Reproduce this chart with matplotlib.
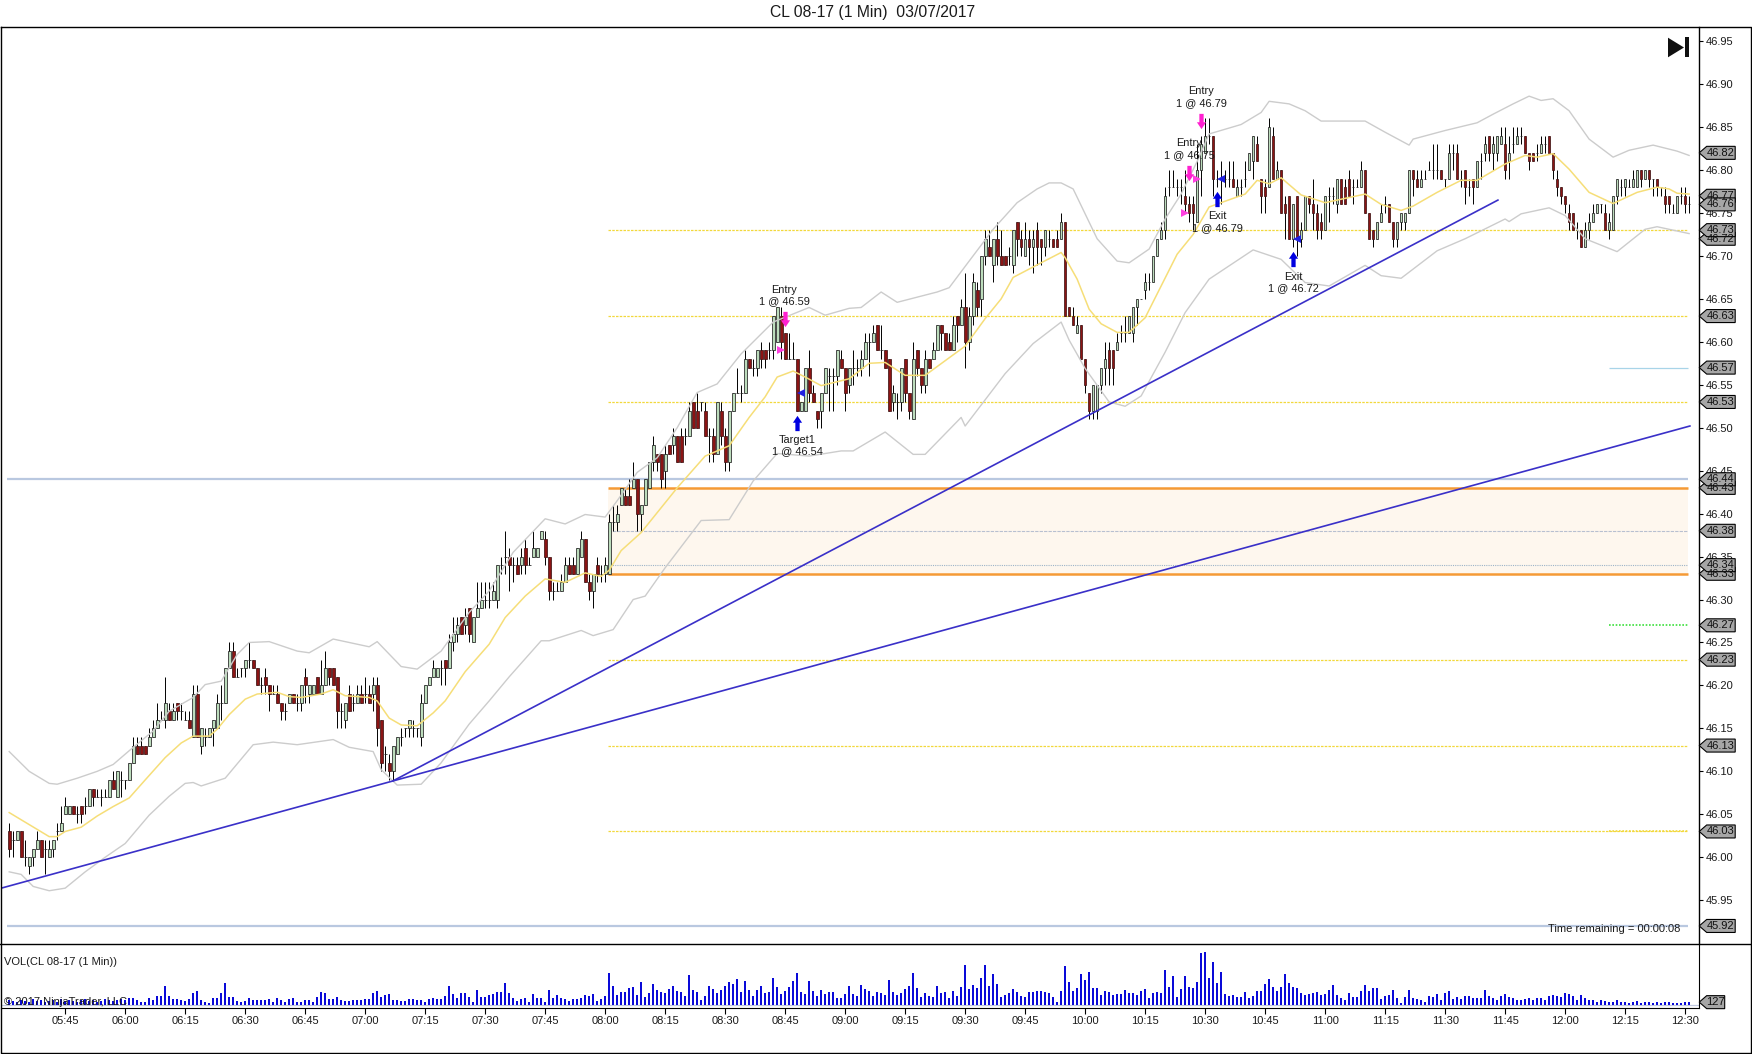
import numpy as np
import matplotlib
matplotlib.use("Agg")
import matplotlib.pyplot as plt
from matplotlib.lines import Line2D
from matplotlib.patches import Polygon, Rectangle
from matplotlib.path import Path

plt.rcParams['font.family'] = ['Liberation Sans', 'DejaVu Sans']

# Candles, cents above 46.00. First bar is 05:31, one bar a minute
opens = [3,2,2,3,0,-1,0,1,2,1, 0,1,3,3,5,5,6,5,6,6, 6,8,7,7,7,7,9,7,9,9, 9,11,13,13,13,13,14,15,16,16,
         17,16,18,17,16,16,14,19,13,14, 14,15,15,18,18,22,24,21,22,22, 23,23,22,20,21,20,19,19,18,17,
         18,19,18,18,21,19,19,21,19,20, 22,22,21,17,16,19,18,18,19,19, 19,19,20,16,12,11,10,12,14,15,
         15,15,15,14,18,20,21,21,22,23, 22,25,26,28,27,29,25,28,29,30, 30,30,30,34,35,35,34,34,34,36,
         34,35,35,37,37,35,31,31,31,32, 34,34,33,35,37,32,31,34,33,33, 33,39,39,41,42,42,43,44,40,41,
         43,46,47,47,45,48,48,49,49,49, 49,53,52,53,52,49,49,47,52,49, 46,52,54,54,54,58,57,57,59,59,
         59,59,60,63,61,58,58,58,52,52, 57,54,52,52,54,56,56,56,58,57, 55,57,57,57,58,60,60,62,59,59,
         58,53,53,53,58,54,51,59,57,55, 58,58,59,62,61,60,59,63,62,64, 60,63,66,65,70,71,69,72,70,70,
         70,69,74,72,70,72,71,73,72,71, 72,72,72,72,74,64,63,61,62,58, 54,52,52,55,57,59,59,59,61,61,
         61,61,64,65,66,67,67,70,72,73, 78,78,78,78,77,76,76,74,80,82, 84,84,79,79,79,79,79,77,78,79,
         80,81,83,79,78,78,84,79,80,76, 77,72,77,72,73,77,76,75,74,73, 77,77,76,79,78,79,78,78,78,80,
         75,73,72,74,76,76,74,72,74,74, 75,80,79,78,79,80,80,80,80,79, 79,82,82,79,80,78,79,78,81,82,
         84,82,82,83,83,81,83,83,84,84, 82,82,82,82,83,84,82,79,78,77, 75,75,73,73,71,73,74,75,76,75,
         73,73,77,78,78,78,78,78,80,79, 80,79,79,78,77,77,75,75,77,77,76]
closes = [1,2,3,0,0,0,1,2,0,1, 1,2,3,4,6,6,5,5,5,6, 8,7,7,7,7,9,8,10,9,9, 11,13,12,12,12,14,15,16,16,18,
          16,17,17,17,16,15,19,14,15,14, 15,16,18,18,22,24,21,21,22,23, 23,22,20,20,20,19,19,18,17,17,
          19,18,18,20,20,20,20,19,20,22, 21,20,17,17,18,17,18,19,18,19, 18,20,15,11,12,10,13,14,14,15,
          16,15,15,18,20,21,22,22,22,22, 25,26,27,26,28,26,28,29,30,30, 30,31,34,34,35,34,34,33,35,34,
          34,36,36,38,35,31,31,31,32,34, 33,33,36,37,32,31,33,33,33,34, 39,39,40,43,41,41,44,40,41,44,
          46,48,46,44,47,47,49,46,46,49, 52,50,50,53,49,49,47,53,49,46, 52,54,54,54,58,57,57,59,58,58,
          59,63,64,60,58,58,58,52,53,57, 54,53,51,54,57,56,56,59,57,54, 57,57,57,58,60,60,61,59,59,57,
          52,54,53,57,54,52,58,57,55,58, 57,59,62,61,59,59,62,62,64,60, 63,67,64,70,72,70,72,70,69,69,
          70,73,72,71,72,71,72,71,71,73, 72,71,71,74,63,63,62,62,58,55, 52,55,55,57,58,57,57,60,61,61,
          63,64,65,65,67,67,70,72,73,77, 78,78,78,78,76,75,75,80,83,84, 84,79,79,79,79,79,78,78,78,79,
          82,84,81,77,77,85,79,80,75,75, 72,76,72,73,77,76,75,73,73,77, 77,77,79,76,76,77,78,78,80,75,
          72,72,74,75,76,74,72,74,75,75, 80,79,78,79,79,80,80,80,79,79, 82,82,79,79,78,78,78,81,81,83,
          82,83,84,84,80,82,83,84,84,82, 81,81,82,83,83,82,80,78,77,76, 74,73,73,71,73,74,75,76,76,73,
          74,77,79,78,79,78,79,80,79,80, 79,79,78,78,76,76,75,77,77,76,76]
highs = [4,3,3,3,2,0,1,3,2,2, 2,2,4,6,7,6,6,6,6,7, 8,8,8,8,8,9,10,10,10,9, 11,14,14,14,13,15,16,18,17,21,
         18,18,18,18,17,17,20,20,15,15, 15,16,19,20,22,25,25,22,22,23, 25,23,22,21,22,20,20,20,18,18,
         19,19,19,20,22,20,20,21,23,24, 22,22,21,18,18,20,19,20,20,21, 20,21,21,16,13,12,13,14,15,15,
         16,16,15,19,20,21,23,22,23,23, 26,28,28,28,29,29,28,32,32,32, 32,32,34,35,38,36,35,35,36,37,
         35,38,36,38,38,35,32,32,33,35, 35,35,36,38,37,33,33,35,34,35, 40,41,41,43,43,44,46,44,41,44,
         46,49,47,47,48,48,50,49,50,50, 53,53,54,53,53,50,50,53,53,50, 52,54,57,55,59,58,58,59,60,59,
         60,63,64,64,61,61,60,58,53,57, 59,55,52,54,57,57,57,59,59,57, 57,59,58,59,61,61,62,62,62,59,
         58,55,54,57,58,54,60,59,57,59, 58,60,62,62,61,61,63,63,65,68, 64,68,67,70,73,73,72,74,73,70,
         71,73,74,73,74,73,73,74,72,73, 73,72,73,75,74,64,64,63,62,58, 54,55,55,57,60,60,59,61,62,63,
         63,64,65,65,68,68,70,72,74,78, 80,80,79,79,80,77,77,83,84,86, 86,84,80,81,80,81,81,79,79,81,
         82,84,84,79,79,86,85,81,80,77, 77,76,77,74,77,77,79,76,75,77, 78,78,79,79,79,80,79,79,81,80,
         75,73,74,76,77,76,74,74,75,75, 80,80,80,80,80,81,83,83,80,79, 83,83,83,80,80,79,79,81,82,84,
         84,84,84,85,85,84,85,85,85,84, 82,82,83,84,84,84,82,80,78,77, 76,75,74,73,74,75,76,76,76,76,
         75,77,79,79,79,79,80,80,80,80, 80,79,79,78,78,77,76,77,78,78,77]
lows = [0,0,2,0,-1,-2,-1,1,0,-2, 0,0,2,3,5,5,5,4,4,5, 6,6,7,6,7,7,8,7,7,8, 9,11,12,12,12,13,14,15,16,15,
        16,16,16,16,16,15,14,14,12,13, 14,13,15,16,18,22,21,21,21,21, 22,22,20,19,19,17,19,18,16,16,
        18,18,17,17,18,18,19,19,19,20, 20,20,15,15,15,17,17,18,18,18, 18,17,13,10,10,9,9,12,13,14,
        14,14,14,13,18,20,21,21,20,20, 22,24,25,26,26,25,25,28,29,29, 29,30,29,33,33,31,32,33,33,33,
        34,35,35,37,34,30,30,31,31,32, 33,33,33,35,32,30,29,32,32,32, 33,38,38,41,41,41,43,38,38,41,
        43,45,45,43,43,47,47,46,46,48, 49,50,50,52,49,46,46,47,48,45, 45,52,54,53,54,57,56,56,57,57,
        58,58,60,58,58,58,58,52,52,52, 53,53,50,50,54,52,52,55,57,52, 54,55,56,56,58,56,60,59,58,57,
        52,52,51,52,53,51,51,56,54,54, 57,58,59,59,59,59,59,60,62,57, 59,62,63,63,69,70,67,69,69,69,
        69,68,70,70,70,69,68,69,69,70, 71,71,71,72,63,63,62,61,58,54, 51,51,51,54,55,55,55,59,60,60,
        61,60,62,65,65,66,67,70,72,72, 77,78,77,76,75,74,73,74,77,82, 83,77,78,76,78,78,78,77,77,78,
        80,79,81,75,75,78,79,79,75,72, 72,71,70,71,73,75,73,72,72,73, 74,76,75,76,76,77,76,78,78,75,
        72,71,72,74,75,74,71,71,73,73, 75,77,78,78,79,80,79,79,79,78, 79,80,79,78,76,77,76,78,79,81,
        81,80,81,83,79,79,82,83,83,82, 80,81,81,82,82,82,79,77,76,75, 73,73,72,71,71,72,74,75,75,73,
        72,73,76,77,77,78,78,78,78,79, 78,77,77,77,75,75,75,75,76,75,75]

# Volume, the last bar (7 here) is the 127 on its tag
vol_read = [15,12,9,15,12,9,18,12,15,9, 12,15,9,18,12,15,12,9,15,18, 12,15,9,12,18,15,12,15,18,15,
            21,21,15,9,9,21,15,27,27,57, 27,18,18,15,12,18,36,42,15,9, 6,21,21,36,66,24,24,12,9,12,
            21,15,15,15,15,18,9,21,15,9, 18,21,9,9,15,15,9,24,39,36, 18,18,24,15,12,12,15,15,15,18,
            18,36,42,24,30,33,15,15,12,12, 18,18,15,15,9,18,21,18,18,27, 57,33,21,36,36,24,9,45,24,24,
            30,33,39,39,66,36,21,12,18,21, 9,33,21,21,9,45,21,30,21,18,12,
            16,16,21,30,25,33,10,16,25, 96,55,28,37,37,49,52,28,67,22, 34,61,43,37,34,46,55,40,37,25,
            88,43,37,13,25,55,46,34,43,55, 67,61,76,37,70,43,25,43,55,34, 37,79,52,31,40,52,70,96,37,31,
            70,40,25,43,31,37,37,19,19,31, 55,31,25,58,46,40,25,37,34,28, 73,37,28,34,46,55,94,49,22,34,
            25,22,55,34,37,19,40,25,52,118, 46,58,49,79,118,55,91,61,22,28, 34,46,37,25,22,37,37,40,40,37,
            34,22,7,40,115,67,40,49,91,73, 97,49,49,28,40,37,28,31,31,43, 34,34,28,
            40,46,19,34,37,34,103,52,85,22, 46,85,52,49,67,154,157,79,127,64, 97,31,25,28,22,22,37,19,25,40,
            40,61,76,52,40,52,91,64,52,49, 34,28,31,34,37,28,31,43,58,28, 19,13,34,22,22,40,58,40,49,49,
            16,25,28,43,19,4,22,43,19,16, 13,7,25,22,31,13,34,40,16,22, 16,25,25,19,19,19,43,25,19,13,
            25,31,22,19,13,13,16,19,13,19, 19,13,25,28,25,22,34,31,25,13, 28,19,13,13,7,13,10,7,7,13,
            7,7,4,7,10,4,7,7,4,7, 4,7,7,4,4,4,7,7]

# Indicators, read at the bends of each line (bar number, cents above 46.00)
ema_x = [0,5,10,12,14,18,22,26,30,34,39,43,46,50,52,55,59,62,67,70,73,78,81,84,90,92,95,98,102,106,109,114,120,124,129,134,139,144,148,150,153,158,167,174,180,185,189,192,196,199,203,210,215,219,224,229,234,239,244,248,251,258,263,264,267,270,273,277,280,284,288,292,296,300,309,312,315,318,323,329,339,343,348,351,357,363,367,374,379,382,386,390,395,401,407,412,415,417,420]
ema_y = [5.2,3.8,2.4,2.4,3,3.5,4.8,5.9,6.9,9,11.6,13.3,14.1,14.1,14.9,16.6,18.4,19,19.2,18.7,18.6,19,19.5,18.8,18.6,18.2,16.2,15.4,15.3,16.8,18.2,21.6,24.8,27.9,30.4,32.4,32,33.1,32.7,33.4,35.7,37.8,43,46.7,47.9,51.2,53.6,55.9,56.6,55.9,54.9,55.7,57.5,57.6,56.1,56.1,57.8,59.5,62.7,65,67.5,69.2,70.4,69.8,67.3,63.8,62.1,61.1,61.1,62.8,66.5,70.2,72.5,75.7,77.2,78.8,78.4,79.1,77.1,76.2,77.2,76,75.3,75.8,77.4,78.8,78.8,80.7,81.7,81.5,81.9,80.1,77.4,76.1,77.4,78,77.8,77.3,77.2]
upper_x = [0,5,10,12,17,22,26,30,36,40,46,49,53,57,60,65,72,75,81,90,92,98,102,108,115,120,126,134,139,144,149,152,157,162,167,172,177,183,191,200,204,210,213,218,222,227,232,235,240,246,252,257,260,263,266,272,277,280,285,289,293,297,300,308,313,315,320,324,328,334,339,344,350,351,359,367,371,376,380,383,386,390,395,401,405,411,417,420]
upper_y = [12.3,10,8.6,8.5,9.2,10,10.8,12.4,14.7,17,18.6,20.1,20.5,23.6,25,25.1,24,23.8,25.4,24.5,25.1,22.2,21.9,24,28.5,31,35.5,39.4,38.8,39.9,39.6,41.5,44.8,46.5,50,54.1,55.1,58.6,62.3,64,63.1,63.9,64,65.8,64.6,65.2,65.8,66.3,69.4,73.1,76.2,77.8,78.5,78.5,77.8,72,69.4,69.2,70.8,74.3,77.2,81,84.2,85.3,86.7,88,87.7,86.9,85.7,85.7,85.7,84.4,82.9,83.6,84.6,85.5,86.5,87.7,88.6,88.1,88.3,86.9,83.6,81.5,82.3,82.9,82.2,81.7]
lower_x = [0,3,6,10,14,19,24,29,35,40,44,46,48,54,61,66,72,81,85,91,93,97,103,108,115,120,125,133,135,143,146,151,156,159,164,173,180,186,192,200,208,211,219,226,229,238,239,249,256,263,265,269,275,279,283,289,294,300,311,318,324,330,339,343,348,357,364,374,375,378,385,389,394,402,409,412,420]
lower_y = [-1.7,-2,-3.4,-3.9,-3.6,-1.7,0,1.6,4.9,7.1,8.6,8.7,8.3,9.2,13.1,13.4,13.1,13.7,12.8,12.3,10.2,8.4,8.5,11,15.5,18.2,21,25.2,25.2,26.4,25.8,26.5,30,30.4,33.7,39.2,39.3,43.8,47,46.7,47.3,47.3,49.5,46.9,46.9,51.2,50.2,56.3,59.8,62.3,60.2,56.9,53,52.5,53.7,58.8,63.4,67.3,70.7,69.6,66.9,66.5,68.9,67.7,67.4,70.6,72,74.3,74,74.9,75.6,74.7,72,70.5,73.1,73.4,72.6]

# Levels drawn on the chart
thin_levels = [46.73, 46.63, 46.53, 46.23, 46.13, 46.03]
zone_low, zone_high = 46.33, 46.43
zone_mid = 46.38
zone_dot = 46.34
wide_levels = [46.44, 45.92]
level_from = 149.7   # about 08:00
level_to = 419.7

# Trend lines (bar, price)
trend_a_x = [-2, 420.2]
trend_a_y = [45.964, 46.502]
trend_b_x = [96, 372.2]
trend_b_y = [46.089, 46.765]

# Executions: big arrows, small triangles, text
down_x = [194, 298, 295]
down_y = [46.626, 46.857, 46.797]
up_x = [197, 302, 321]
up_y = [46.506, 46.766, 46.696]
fill_x = [193, 297, 294]
fill_y = [46.59, 46.79, 46.75]
exit_x = [198, 303, 322]
exit_y = [46.54, 46.79, 46.72]
trade_labels = [("Entry", "1 @ 46.59", 193.8, 46.660, 46.647),
                ("Entry", "1 @ 46.79", 298, 46.8915, 46.8775),
                ("Entry", "1 @ 46.75", 295, 46.831, 46.817),
                ("Target1", "1 @ 46.54", 197, 46.486, 46.473),
                ("Exit", "1 @ 46.79", 302, 46.746, 46.732),
                ("Exit", "1 @ 46.72", 321, 46.676, 46.662)]

tag_prices = [46.82, 46.77, 46.76, 46.72, 46.73, 46.63, 46.57, 46.53, 46.43, 46.44,
              46.38, 46.33, 46.34, 46.27, 46.23, 46.13, 46.03, 45.92]
time_labels = ['05:45', '06:00', '06:15', '06:30', '06:45', '07:00', '07:15', '07:30', '07:45', '08:00',
               '08:15', '08:30', '08:45', '09:00', '09:15', '09:30', '09:45', '10:00', '10:15', '10:30',
               '10:45', '11:00', '11:15', '11:30', '11:45', '12:00', '12:15', '12:30']

W, H = 1752, 1054
RIGHT = 1698.7
TEXT = '#1a1a1a'


def px_box(left, top, right, bottom):
    return [left / W, 1 - bottom / H, (right - left) / W, (bottom - top) / H]


fig = plt.figure(figsize=(W / 100, H / 100), dpi=100, facecolor='white')
ax = fig.add_axes(px_box(1, 27, RIGHT, 944))
vol_ax = fig.add_axes(px_box(1, 944, RIGHT, 1008))

o = 46 + np.array(opens) / 100
c = 46 + np.array(closes) / 100
hi = 46 + np.array(highs) / 100
lo = 46 + np.array(lows) / 100
bars = np.arange(len(o))

ax.set_xlim(-2.05, 422.4)
ax.set_ylim(45.899, 46.9665)

# zone and levels
ax.add_patch(Rectangle((level_from, zone_low), level_to - level_from, zone_high - zone_low,
                       facecolor='#fef7ee', edgecolor='none', zorder=0.5))
ax.hlines(thin_levels, level_from, level_to, color='#f2d83c', lw=0.9, linestyle=(0, (2, 1)), zorder=1)
ax.hlines(46.03, 400, level_to, color='#f2d83c', lw=1.2, linestyle=(0, (1, 1)), zorder=1)
ax.hlines(wide_levels, -0.5, level_to, color='#b9c8e0', lw=1.6, zorder=1)
ax.hlines([zone_low, zone_high], level_from, level_to, color='#f59a35', lw=1.8, zorder=1)
ax.hlines(zone_mid, level_from, level_to, color='#b8c0d0', lw=0.8, linestyle=(0, (3, 1)), zorder=1)
ax.hlines(zone_dot, level_from, level_to, color='#9db4c8', lw=0.8, linestyle=(0, (1, 1)), zorder=1)
ax.hlines(46.57, 400, level_to, color='#a8d4e8', lw=0.9, zorder=1)
ax.hlines(46.27, 400, level_to, color='#3ce03c', lw=1.2, linestyle=(0, (1, 1)), zorder=1)

# candles
ax.vlines(bars, lo, hi, color='black', lw=0.7, zorder=2)
up = c >= o
ax.bar(bars[up], (c - o)[up], bottom=o[up], width=0.68, color='#bcdcbc', edgecolor='#202020', lw=0.55, zorder=3)
ax.bar(bars[~up], (c - o)[~up], bottom=o[~up], width=0.68, color='#8b1414', edgecolor='#401414', lw=0.55, zorder=3)

# indicators go over the candles
ax.plot(upper_x, 46 + np.array(upper_y) / 100, color='#cccccc', lw=1.0, zorder=4)
ax.plot(lower_x, 46 + np.array(lower_y) / 100, color='#cccccc', lw=1.0, zorder=4)
ax.plot(ema_x, 46 + np.array(ema_y) / 100, color='#f6de78', lw=1.1, zorder=4)

ax.plot(trend_a_x, trend_a_y, color='#3a30c8', lw=1.2, zorder=5)
ax.plot(trend_b_x, trend_b_y, color='#3a30c8', lw=1.2, zorder=5)

# execution markers
down_arrow = Path([(-0.28, 1), (0.28, 1), (0.28, -0.1), (0.6, -0.1), (0, -1), (-0.6, -0.1), (-0.28, -0.1), (-0.28, 1)], closed=True)
up_arrow = Path([(-0.28, -1), (0.28, -1), (0.28, 0.1), (0.6, 0.1), (0, 1), (-0.6, 0.1), (-0.28, 0.1), (-0.28, -1)], closed=True)
ax.plot(down_x, down_y, ls='none', marker=down_arrow, ms=11, color='#ff20d0', mew=0, zorder=6)
ax.plot(up_x, up_y, ls='none', marker=up_arrow, ms=11, color='#0000e0', mew=0, zorder=6)
ax.plot(fill_x, fill_y, ls='none', marker='>', ms=5.5, color='#ff40e0', mew=0, zorder=6)
ax.plot(exit_x, exit_y, ls='none', marker='<', ms=5.5, color='#2020e0', mew=0, zorder=6)
for name, fill, x, y1, y2 in trade_labels:
    ax.text(x, y1, name, ha='center', va='center', fontsize=7.9, color=TEXT, zorder=7)
    ax.text(x, y2, fill, ha='center', va='center', fontsize=7.9, color=TEXT, zorder=7)

ax.text(0.9895, 0.0165, 'Time remaining = 00:00:08', transform=ax.transAxes, ha='right', va='center',
        fontsize=8, color=TEXT, zorder=7)

# axis on the right
ax.yaxis.tick_right()
ax.set_yticks(np.arange(45.95, 46.96, 0.05))
ax.set_yticklabels(['%.2f' % v for v in np.arange(45.95, 46.96, 0.05)])
ax.tick_params(axis='y', length=3, width=0.8, pad=2, labelsize=8, labelcolor=TEXT)
ax.set_xticks([])
for name in ['top', 'left', 'bottom']:
    ax.spines[name].set_visible(False)
ax.spines['right'].set_linewidth(1.0)


# grey price tags
def price_tag(axis, value, text, half_h, width=28.5):
    wpx = (RIGHT - 1)
    x0 = 1 + 0.5 / wpx
    x1 = 1 + 8 / wpx
    x2 = 1 + (8 + width) / wpx
    pts = [(x0, value), (x1, value + half_h), (x2, value + half_h), (x2, value - half_h), (x1, value - half_h)]
    axis.add_patch(Polygon(pts, closed=True, transform=axis.get_yaxis_transform(), clip_on=False,
                           facecolor='#a6a6a6', edgecolor='black', lw=0.8, zorder=10))
    axis.text((x1 + x2) / 2, value, text, transform=axis.get_yaxis_transform(), ha='center', va='center',
              fontsize=8, color='#101010', clip_on=False, zorder=11)


for p in tag_prices:
    price_tag(ax, p, '%.2f' % p, 6.5 / 858.9)

# volume panel
scale = 127 / 7
vol = np.array(vol_read) * scale
vol_ax.set_xlim(ax.get_xlim())
vol_ax.set_ylim(-10.5 * scale, 181.5 * scale)
vol_ax.axhline(0, color='#c0c8e0', lw=0.9, zorder=1)
vol_ax.bar(bars, vol, width=0.46, color='#0a0ad8', zorder=2)
vol_ax.yaxis.tick_right()
vol_ax.set_yticks([])
vol_ax.set_xticks(np.arange(14, 14 + 15 * len(time_labels), 15))
vol_ax.set_xticklabels(time_labels)
vol_ax.tick_params(axis='x', length=4, width=0.8, pad=2, labelsize=8, labelcolor=TEXT)
vol_ax.spines['top'].set_visible(False)
vol_ax.spines['left'].set_visible(False)
vol_ax.text(0.0015, 0.72, 'VOL(CL 08-17 (1 Min))', transform=vol_ax.transAxes, ha='left', va='center',
            fontsize=8, color=TEXT)
vol_ax.text(0.0015, 0.09, '\u00a9 2017 NinjaTrader, LLC', transform=vol_ax.transAxes, ha='left', va='center',
            fontsize=8, color=TEXT, zorder=5)
# 1 px in this panel is 3 read units
price_tag(vol_ax, vol[-1], '127', 6.5 * 3 * scale, width=18)

# frame, divider and the skip button, all in figure pixels
fig.add_artist(Line2D([1 / W, 1 / W, 1751 / W, 1751 / W, 1 / W], [1 - 27 / H, 1 - 1053 / H, 1 - 1053 / H, 1 - 27 / H, 1 - 27 / H],
                      color='black', lw=1.0))
fig.add_artist(Line2D([0, 1], [1 - 944 / H, 1 - 944 / H], color='black', lw=1.0))
fig.add_artist(Polygon([(1668 / W, 1 - 37.7 / H), (1684 / W, 1 - 47.5 / H), (1668 / W, 1 - 57.3 / H)], closed=True,
                       transform=fig.transFigure, facecolor='#101010', edgecolor='none'))
fig.add_artist(Rectangle((1685.3 / W, 1 - 57.3 / H), 3.4 / W, 20 / H, transform=fig.transFigure,
                         facecolor='#101010', edgecolor='none'))

fig.text(872.6 / W, 1 - 13 / H, 'CL 08-17 (1 Min)  03/07/2017', ha='center', va='center', fontsize=11.3, color=TEXT)

fig.savefig('out.png', dpi=100)
